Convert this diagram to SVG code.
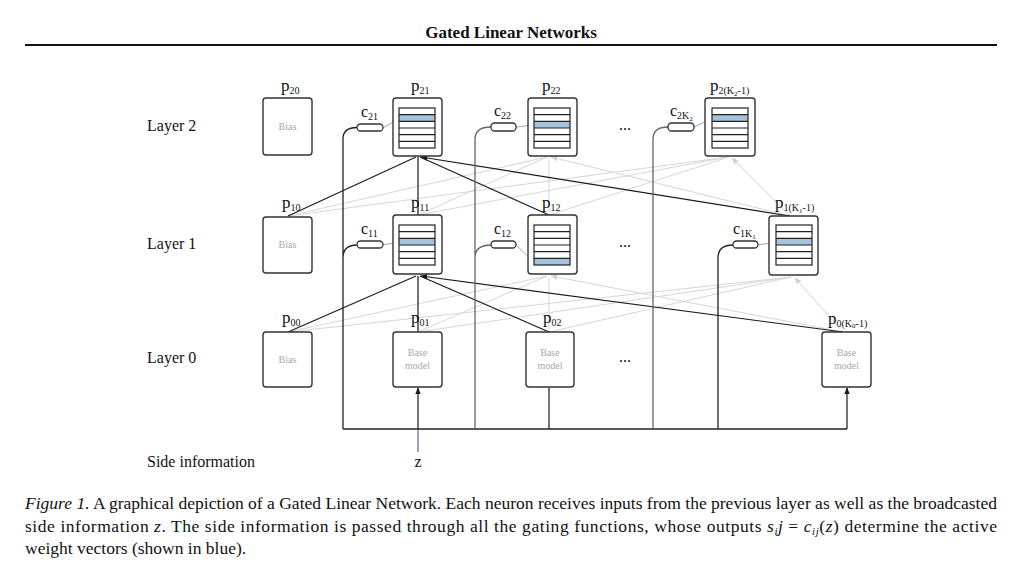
<svg xmlns="http://www.w3.org/2000/svg" xmlns:xlink="http://www.w3.org/1999/xlink" width="1025" height="570" viewBox="0 0 1025 570">
<style>
text{font-family:"Liberation Serif","Times New Roman",serif;fill:#111}
.title{font-size:17px;font-weight:bold}
.layer{font-size:16px}
.p{font-size:17px}
.c{font-size:16px}
.sub{font-size:10px}
.inner{font-size:10px;fill:#a8a8a8}
.box{fill:#fff;stroke:#333;stroke-width:1.4}
.tbl{fill:#fff}
.blue{fill:#a6c3de}
.pill{fill:#fff;stroke:#333;stroke-width:1.3}
.blk{stroke:#1a1a1a;stroke-width:1.2;fill:none}
.gry{stroke:#d6d6d6;stroke-width:1;fill:none}
.gate{stroke:#222;stroke-width:1.3;fill:none}
.gate2{stroke:#666;stroke-width:1.3;fill:none}
.barrow{stroke:#8aaed0;stroke-width:1;fill:none}
.cap{font-size:17.5px}
</style>
<defs>
<marker id="ab" viewBox="0 0 10 10" refX="9" refY="5" markerWidth="7" markerHeight="7" orient="auto" markerUnits="userSpaceOnUse"><path d="M0,1 L10,5 L0,9 z" fill="#1a1a1a"/></marker>
<marker id="ag" viewBox="0 0 10 10" refX="9" refY="5" markerWidth="7" markerHeight="7" orient="auto" markerUnits="userSpaceOnUse"><path d="M0,1 L10,5 L0,9 z" fill="#d0d0d0"/></marker>
<marker id="al" viewBox="0 0 10 10" refX="9" refY="5" markerWidth="5" markerHeight="5" orient="auto" markerUnits="userSpaceOnUse"><path d="M0,1 L10,5 L0,9 z" fill="#8aaed0"/></marker>
<g id="rows" fill="none" stroke="#222" stroke-width="1.2">
<rect x="0" y="0" width="36" height="40"/>
<path d="M0,6.67H36M0,13.33H36M0,20H36M0,26.67H36M0,33.33H36"/>
</g>
</defs>

<text class="title" x="511" y="38" text-anchor="middle">Gated Linear Networks</text>
<line x1="25" y1="45" x2="997" y2="45" stroke="#111" stroke-width="2"/>

<g id="labels">
<text class="layer" x="147" y="131">Layer 2</text>
<text class="layer" x="147" y="249">Layer 1</text>
<text class="layer" x="147" y="363">Layer 0</text>
<text class="layer" x="147" y="467">Side information</text>
<text class="layer" x="418" y="467" text-anchor="middle">z</text>
<text class="layer" x="625" y="130" text-anchor="middle">...</text>
<text class="layer" x="625" y="247" text-anchor="middle">...</text>
<text class="layer" x="625" y="362" text-anchor="middle">...</text>
</g>

<g id="connectors">
<path class="gry" marker-end="url(#ag)" d="M288,216L547,157M418,215L547,157M549,215L549,158M790,216L551,157"/>
<path class="gry" marker-end="url(#ag)" d="M288,216L728,157M418,215L728,157M549,215L729,157M790,216L732,158"/>
<path class="gry" marker-end="url(#ag)" d="M288,332L547,276M418,332L547,276M549,332L549,277M843,332L551,276"/>
<path class="gry" marker-end="url(#ag)" d="M288,332L791,277M418,332L791,277M549,332L791,277M843,332L795,278"/>
<path class="blk" marker-end="url(#ab)" d="M288,216L416,157M418,215L418,157M549,215L420,157M790,216L421,157"/>
<path class="blk" marker-end="url(#ab)" d="M288,332L416,276M418,332L418,276M549,332L420,276M843,332L421,276"/>
<path class="gate" d="M343,429H847"/>
<path class="gate" d="M343,429V139Q343,127.5 357,127.5M343,258Q343,245 357,245"/>
<path class="gate2" d="M475,429V139Q475,127 491,127M475,258Q475,245 491,245"/>
<path class="gate2" d="M653,429V139Q653,127 668,127"/>
<path class="gate" d="M718,429V258Q718,245 733,245"/>
<path class="blk" marker-end="url(#ab)" d="M549,429V388M847,429V388"/>
<path stroke="#56688a" stroke-width="1.2" d="M418,452V429"/>
<path class="blk" marker-end="url(#ab)" d="M418,429.5V388"/>
<path class="barrow" marker-end="url(#al)" d="M383,128L399,118.5"/>
<path class="barrow" marker-end="url(#al)" d="M516,127L534,125"/>
<path class="barrow" marker-end="url(#al)" d="M694,127L712,118.5"/>
<path class="barrow" marker-end="url(#al)" d="M383,245L399,242"/>
<path class="barrow" marker-end="url(#al)" d="M516,245L534,262"/>
<path class="barrow" marker-end="url(#al)" d="M758,245L776,242"/>
</g>

<g id="p20">
<rect class="box" x="263" y="98" width="49" height="57" rx="3"/>
<text class="inner" x="287.5" y="130" text-anchor="middle">Bias</text>
<text class="p" x="281" y="91">p<tspan class="sub" dy="3">20</tspan></text>
</g>
<g id="p21">
<rect class="box" x="393" y="98" width="49" height="58" rx="3"/>
<rect class="tbl" x="399" y="108" width="36" height="40"/>
<rect class="blue" x="399" y="114.67" width="36" height="6.67"/>
<use xlink:href="#rows" x="399" y="108"/>
<text class="p" x="411" y="91">p<tspan class="sub" dy="3">21</tspan></text>
<rect class="pill" x="357" y="124" width="26" height="7" rx="3.5"/>
<text class="c" x="361" y="117">c<tspan class="sub" dy="3">21</tspan></text>
</g>
<g id="p22">
<rect class="box" x="528" y="98" width="49" height="58" rx="3"/>
<rect class="tbl" x="534" y="108" width="36" height="40"/>
<rect class="blue" x="534" y="121.33" width="36" height="6.67"/>
<use xlink:href="#rows" x="534" y="108"/>
<text class="p" x="542" y="91">p<tspan class="sub" dy="3">22</tspan></text>
<rect class="pill" x="491" y="123" width="25" height="8" rx="3.5"/>
<text class="c" x="494" y="116">c<tspan class="sub" dy="3">22</tspan></text>
</g>
<g id="p2K">
<rect class="box" x="705" y="98" width="50" height="58" rx="3"/>
<rect class="tbl" x="712" y="108" width="36" height="40"/>
<rect class="blue" x="712" y="114.67" width="36" height="6.67"/>
<use xlink:href="#rows" x="712" y="108"/>
<text class="p" x="710" y="91">p<tspan class="sub" dy="3">2(K</tspan><tspan style="font-size:7px" dy="1.5">2</tspan><tspan class="sub" dy="-1.5">-1)</tspan></text>
<rect class="pill" x="668" y="123" width="26" height="8" rx="3.5"/>
<text class="c" x="670" y="116">c<tspan class="sub" dy="3">2K</tspan><tspan style="font-size:7px" dy="1.5">2</tspan></text>
</g>

<g id="p10">
<rect class="box" x="263" y="217" width="49" height="56" rx="3"/>
<text class="inner" x="287.5" y="248" text-anchor="middle">Bias</text>
<text class="p" x="282" y="208">p<tspan class="sub" dy="3">10</tspan></text>
</g>
<g id="p11">
<rect class="box" x="393" y="215" width="49" height="59" rx="3"/>
<rect class="tbl" x="399" y="225" width="36" height="40"/>
<rect class="blue" x="399" y="238.33" width="36" height="6.67"/>
<use xlink:href="#rows" x="399" y="225"/>
<text class="p" x="411" y="208">p<tspan class="sub" dy="3">11</tspan></text>
<rect class="pill" x="357" y="241" width="26" height="7" rx="3.5"/>
<text class="c" x="361" y="234">c<tspan class="sub" dy="3">11</tspan></text>
</g>
<g id="p12">
<rect class="box" x="528" y="215" width="49" height="59" rx="3"/>
<rect class="tbl" x="534" y="225" width="36" height="40"/>
<rect class="blue" x="534" y="258.33" width="36" height="6.67"/>
<use xlink:href="#rows" x="534" y="225"/>
<text class="p" x="542" y="208">p<tspan class="sub" dy="3">12</tspan></text>
<rect class="pill" x="491" y="241" width="25" height="7" rx="3.5"/>
<text class="c" x="494" y="234">c<tspan class="sub" dy="3">12</tspan></text>
</g>
<g id="p1K">
<rect class="box" x="769" y="216" width="49" height="59" rx="3"/>
<rect class="tbl" x="776" y="225" width="36" height="40"/>
<rect class="blue" x="776" y="238.33" width="36" height="6.67"/>
<use xlink:href="#rows" x="776" y="225"/>
<text class="p" x="775" y="208">p<tspan class="sub" dy="3">1(K</tspan><tspan style="font-size:7px" dy="1.5">1</tspan><tspan class="sub" dy="-1.5">-1)</tspan></text>
<rect class="pill" x="733" y="241" width="25" height="7" rx="3.5"/>
<text class="c" x="733" y="234">c<tspan class="sub" dy="3">1K</tspan><tspan style="font-size:7px" dy="1.5">1</tspan></text>
</g>

<g id="p00">
<rect class="box" x="263" y="332" width="49" height="55" rx="3"/>
<text class="inner" x="287.5" y="363" text-anchor="middle">Bias</text>
<text class="p" x="282" y="323">p<tspan class="sub" dy="3">00</tspan></text>
</g>
<g id="p01">
<rect class="box" x="393" y="332" width="49" height="55" rx="3"/>
<text class="inner" x="417.5" y="356" text-anchor="middle">Base</text>
<text class="inner" x="417.5" y="369" text-anchor="middle">model</text>
<text class="p" x="411" y="323">p<tspan class="sub" dy="3">01</tspan></text>
</g>
<g id="p02">
<rect class="box" x="526" y="332" width="48" height="55" rx="3"/>
<text class="inner" x="550" y="356" text-anchor="middle">Base</text>
<text class="inner" x="550" y="369" text-anchor="middle">model</text>
<text class="p" x="543" y="323">p<tspan class="sub" dy="3">02</tspan></text>
</g>
<g id="p0K">
<rect class="box" x="822" y="332" width="49" height="55" rx="3"/>
<text class="inner" x="846.5" y="356" text-anchor="middle">Base</text>
<text class="inner" x="846.5" y="369" text-anchor="middle">model</text>
<text class="p" x="828" y="324">p<tspan class="sub" dy="3">0(K</tspan><tspan style="font-size:7px" dy="1">0</tspan><tspan class="sub" dy="-1">-1)</tspan></text>
</g>

<g id="caption">
<text class="cap" x="25" y="509" textLength="972" lengthAdjust="spacing"><tspan font-style="italic">Figure 1.</tspan> A graphical depiction of a Gated Linear Network. Each neuron receives inputs from the previous layer as well as the broadcasted</text>
<text class="cap" x="25" y="532" textLength="972" lengthAdjust="spacing">side information <tspan font-style="italic">z</tspan>. The side information is passed through all the gating functions, whose outputs <tspan font-style="italic">s</tspan><tspan font-style="italic" font-size="11" dy="3">i</tspan><tspan font-style="italic" dy="-3">j</tspan> = <tspan font-style="italic">c</tspan><tspan font-style="italic" font-size="11" dy="3">ij</tspan><tspan dy="-3">(</tspan><tspan font-style="italic">z</tspan>) determine the active</text>
<text class="cap" x="25" y="554">weight vectors (shown in blue).</text>
</g>
</svg>
